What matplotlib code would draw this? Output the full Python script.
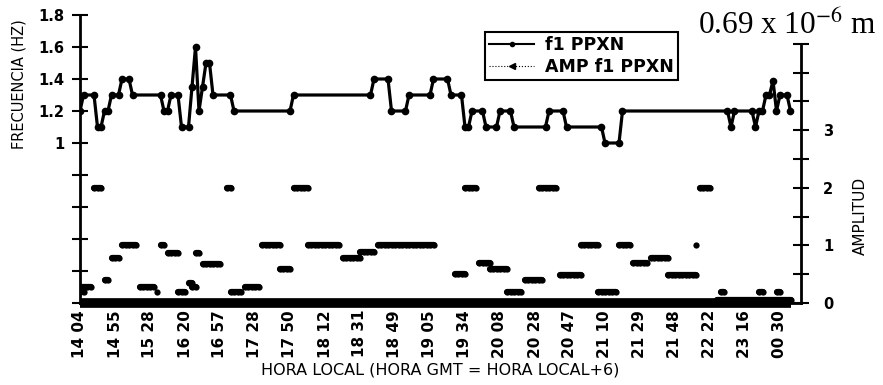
import numpy as np
import matplotlib.pyplot as plt
from matplotlib.lines import Line2D

plt.rcParams['font.family'] = 'DejaVu Sans'
plt.rcParams['mathtext.fontset'] = 'stix'

# f1 PPXN: frequency level (Hz) and number of consecutive samples at that level
freq_level = [1.2, 1.3, 1.1, 1.2, 1.3, 1.4, 1.3, 1.2, 1.3, 1.1,
              1.35, 1.6, 1.2, 1.35, 1.5, 1.3, 1.2, 1.3, 1.4, 1.2,
              1.3, 1.4, 1.3, 1.1, 1.2, 1.1, 1.2, 1.1, 1.2, 1.1,
              1.0, 1.2, 1.1, 1.2, 1.1, 1.2, 1.3, 1.39, 1.2, 1.3, 1.2]
freq_count = [1, 4, 2, 2, 3, 3, 9, 2, 3, 3,
              1, 1, 1, 1, 2, 6, 17, 23, 5, 5,
              7, 5, 4, 2, 4, 4, 4, 10, 5, 11,
              5, 31, 1, 6, 1, 2, 2, 1, 1, 3, 1]

# AMP f1 PPXN: runs of non-zero amplitude (first sample, length, level);
# every sample also has a point at zero
amp_start = [0, 0, 4, 7, 9, 12, 17, 22, 23, 25, 28, 31, 32, 33, 35, 42, 43, 47,
             52, 57, 61, 65, 75, 80, 85, 107, 110, 114, 117, 122, 127, 131, 137,
             143, 148, 154, 158, 163, 168, 176, 177, 182, 183, 194, 199]
amp_len = [4, 2, 3, 2, 3, 5, 5, 1, 2, 4, 3, 2, 2, 2, 6, 2, 4, 5,
           6, 4, 5, 10, 6, 5, 17, 4, 4, 4, 6, 5, 6, 6, 7,
           6, 6, 4, 5, 6, 9, 1, 4, 22, 2, 2, 2]
amp_level = [0.28, 0.19, 2.0, 0.40, 0.78, 1.0, 0.28, 0.19, 1.0, 0.87, 0.19, 0.35,
             0.28, 0.87, 0.68, 2.0, 0.19, 0.28, 1.0, 0.59, 2.0, 1.0, 0.78, 0.88,
             1.0, 0.5, 2.0, 0.69, 0.59, 0.19, 0.4, 2.0, 0.49, 1.0, 0.19, 1.0,
             0.69, 0.78, 0.49, 1.0, 2.0, 0.06, 0.19, 0.19, 0.19]

time_labels = ["14 04", "14 55", "15 28", "16 20", "16 57", "17 28", "17 50",
               "18 12", "18 31", "18 49", "19 05", "19 34", "20 08", "20 28",
               "20 47", "21 10", "21 29", "21 48", "22 22", "23 16", "00 30"]

freq = np.repeat(freq_level, freq_count)
n = len(freq)
idx = np.arange(n)

# markers only where the frequency level starts or ends a run
ends = np.cumsum(freq_count)
marks = sorted(set(np.concatenate([ends - np.array(freq_count), ends - 1]).tolist()))

# amplitude runs as one broken line (NaN between runs)
amp_x, amp_y = [], []
for s, l, v in zip(amp_start, amp_len, amp_level):
    amp_x += list(np.arange(s, s + l)) + [np.nan]
    amp_y += [v] * l + [np.nan]

fig = plt.figure(figsize=(8.83, 3.85), dpi=100)
ax = fig.add_axes([80 / 883, 82 / 385, 721 / 883, 288 / 385])
ax2 = ax.twinx()

ax.plot(idx, freq, color="black", lw=2.3, marker="o", ms=4.5,
        markevery=marks, zorder=3)
ax2.plot(idx, np.zeros(n), color="black", lw=7, solid_capstyle="butt",
         zorder=3, clip_on=False)
ax2.plot(amp_x, amp_y, color="black", lw=4.5, solid_capstyle="round",
         marker="o", ms=4.5, mew=0, zorder=3)

ax.set_xlim(0, 206)
ax.set_ylim(0, 1.8)
ax2.set_ylim(0, 5)

ax.set_xticks(np.arange(0, 10 * len(time_labels), 10))
ax.set_xticklabels(time_labels, rotation=90, fontsize=11, fontweight="bold")
ax.tick_params(axis="x", length=0, pad=5)

yt = np.round(np.arange(0, 1.81, 0.2), 1)
ax.set_yticks(yt)
ax.set_yticklabels(["" if v < 1 else ("1" if v == 1 else f"{v:.1f}") for v in yt],
                   fontsize=10.5, fontweight="bold")
ax.tick_params(axis="y", direction="inout", length=12, width=1.5, pad=5)

yt2 = np.arange(0, 4.51, 0.5)
ax2.set_yticks(yt2)
ax2.set_yticklabels([f"{int(v)}" if v in (0, 1, 2, 3) else "" for v in yt2],
                    fontsize=10.5, fontweight="bold")
ax2.tick_params(axis="y", direction="inout", length=12, width=1.5, pad=10)

for a in (ax, ax2):
    a.spines["top"].set_visible(False)
ax.spines["right"].set_visible(False)
ax.spines["left"].set_linewidth(2)
ax.spines["bottom"].set_linewidth(2)
ax2.spines["left"].set_visible(False)
ax2.spines["bottom"].set_visible(False)
ax2.spines["right"].set_linewidth(2)
ax2.spines["right"].set_bounds(0, 4.5)

ax.set_xlabel("HORA LOCAL (HORA GMT = HORA LOCAL+6)", fontsize=11.5, labelpad=3)
fig.text(19 / 883, 1 - 84 / 385, "FRECUENCIA (HZ)", rotation=90,
         ha="center", va="center", fontsize=10.5)
fig.text(860 / 883, 1 - 216 / 385, "AMPLITUD", rotation=90,
         ha="center", va="center", fontsize=11)
fig.text(698 / 883, 1 - 34 / 385, r"0.69 x 10$^{-6}$ m", ha="left",
         va="baseline", fontsize=22.5, family="Liberation Serif")

handles = [Line2D([], [], color="black", lw=1.5, marker="o", ms=3),
           Line2D([], [], color="black", lw=0.8, ls=":", marker="<", ms=4)]
leg = fig.legend(handles, ["f1 PPXN", "AMP f1 PPXN"], loc="upper left",
                 bbox_to_anchor=(485 / 883, 1 - 32 / 385),
                 bbox_transform=fig.transFigure, borderaxespad=0,
                 fancybox=False, edgecolor="black", framealpha=1,
                 handlelength=2.6, handletextpad=0.6,
                 prop={"size": 12.5, "weight": "bold"},
                 labelspacing=0.2, borderpad=0.25)
leg.get_frame().set_linewidth(1.5)

fig.savefig("out.png", dpi=100)
